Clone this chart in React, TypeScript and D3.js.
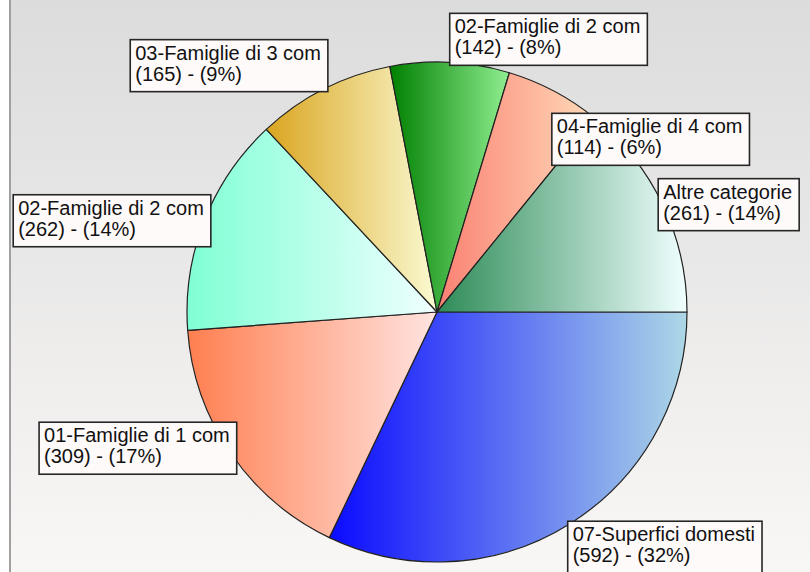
import React, { useRef, useEffect } from "react";
import * as d3 from "d3";

// slices, clockwise from 3 o'clock
const categories = [
  "07-Superfici domesti",
  "01-Famiglie di 1 com",
  "02-Famiglie di 2 com",
  "03-Famiglie di 3 com",
  "02-Famiglie di 2 com",
  "04-Famiglie di 4 com",
  "Altre categorie",
];
const values = [592, 309, 262, 165, 142, 114, 261];
const darkColors = ["#0a0aff", "#ff7f50", "#7fffd4", "#daa520", "#008000", "#fa8072", "#2e8b57"];
const lightColors = ["#add8e6", "#ffe4e1", "#f0ffff", "#fafad2", "#90ee90", "#ffdab9", "#f0ffff"];

type Box = { x: number; y: number; w: number; h: number };

const App = () => {
  const svgRef = useRef<SVGSVGElement | null>(null);

  useEffect(() => {
    const svg = d3.select(svgRef.current);
    svg.selectAll("*").remove();

    const width = 810;
    const height = 572;
    const cx = 437;
    const cy = 312;
    const radius = 250;
    const total = d3.sum(values);

    const defs = svg.append("defs");

    // background
    const bg = defs
      .append("linearGradient")
      .attr("id", "bg")
      .attr("x1", 0)
      .attr("y1", 0)
      .attr("x2", 0)
      .attr("y2", 1);
    bg.append("stop").attr("offset", 0).attr("stop-color", "#dcdcdc");
    bg.append("stop").attr("offset", 1).attr("stop-color", "#f9f7f6");

    svg.append("rect").attr("width", width).attr("height", height).attr("fill", "#ffffff");
    svg
      .append("rect")
      .attr("x", 11)
      .attr("width", width - 11)
      .attr("height", height)
      .attr("fill", "url(#bg)");
    svg
      .append("line")
      .attr("x1", 10)
      .attr("x2", 10)
      .attr("y1", 0)
      .attr("y2", height)
      .attr("stroke", "#a0a0a0")
      .attr("stroke-width", 2);

    // one horizontal gradient per slice
    values.forEach((_, i) => {
      const g = defs
        .append("linearGradient")
        .attr("id", `slice${i}`)
        .attr("x1", 0)
        .attr("y1", 0)
        .attr("x2", 1)
        .attr("y2", 0);
      g.append("stop").attr("offset", 0).attr("stop-color", darkColors[i]);
      g.append("stop").attr("offset", 1).attr("stop-color", lightColors[i]);
    });

    const pie = d3
      .pie<number>()
      .sort(null)
      .value((d) => d)
      .startAngle(Math.PI / 2)
      .endAngle(Math.PI / 2 + Math.PI * 2);
    const arcs = pie(values);
    const arc = d3.arc<d3.PieArcDatum<number>>().innerRadius(0).outerRadius(radius);

    const g = svg.append("g").attr("transform", `translate(${cx},${cy})`);
    g.selectAll("path")
      .data(arcs)
      .enter()
      .append("path")
      .attr("d", arc)
      .attr("fill", (d, i) => `url(#slice${i})`)
      .attr("stroke", "#222")
      .attr("stroke-width", 1.2)
      .attr("stroke-linejoin", "round");

    // labels
    const fontSize = 20;
    const lineH = 21;
    const boxH = 52;
    const placed: Box[] = [];
    const labelLayer = svg.append("g");

    arcs.forEach((d, i) => {
      const mid = (d.startAngle + d.endAngle) / 2;
      const a = ((mid % (Math.PI * 2)) + Math.PI * 2) % (Math.PI * 2);
      const px = cx + radius * 0.98 * Math.sin(a);
      const py = cy - radius * 0.98 * Math.cos(a);
      const pct = Math.round((values[i] / total) * 100);
      const lines = [categories[i], `(${values[i]}) - (${pct}%)`];

      const lg = labelLayer.append("g");
      const rect = lg.append("rect");
      const texts = lines.map((t) =>
        lg
          .append("text")
          .text(t)
          .attr("font-family", "'Liberation Sans', Arial, sans-serif")
          .attr("font-size", fontSize)
          .attr("fill", "#111")
      );
      const tw = d3.max(texts, (t) => (t.node() as SVGTextElement).getComputedTextLength()) || 0;
      const w = tw + 12;

      const x = Math.sin(a) >= 0 ? px : px + 2 - w;
      const fromTop = Math.min(a, Math.PI * 2 - a);
      const fromBottom = Math.abs(a - Math.PI);
      const lim = (40 * Math.PI) / 180;
      let y: number;
      if (fromTop < lim) y = py - 2 - boxH;
      else if (fromBottom < lim) y = py + 2;
      else y = py - 2 - boxH / 2;

      // push down below an overlapping label
      placed.forEach((b) => {
        if (x < b.x + b.w && x + w > b.x && y < b.y + b.h && y + boxH > b.y) {
          y = b.y + b.h + 48;
        }
      });
      placed.push({ x, y, w, h: boxH });

      rect
        .attr("x", x)
        .attr("y", y)
        .attr("width", w)
        .attr("height", boxH)
        .attr("fill", "#fffafa")
        .attr("stroke", "#262626")
        .attr("stroke-width", 1.6);
      texts.forEach((t, j) => t.attr("x", x + 5).attr("y", y + 20 + j * lineH));
    });
  }, []);

  return (
    <div style={{ position: "absolute", left: 0, top: 0 }}>
      <svg ref={svgRef} width={810} height={572} style={{ display: "block" }} />
    </div>
  );
};

export default App;
